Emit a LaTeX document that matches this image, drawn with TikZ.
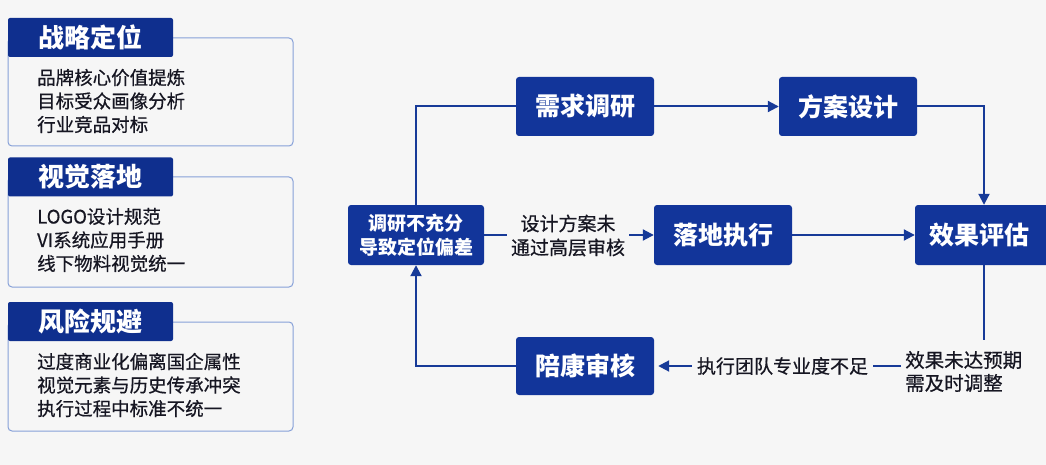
\documentclass[tikz,border=0pt]{standalone}
\usepackage{fontspec}
\setmainfont{Noto Sans CJK SC}
\newfontfamily\cjkmid[FakeBold=0.6]{Noto Sans CJK SC}
\usetikzlibrary{arrows.meta,calc}
\definecolor{navy}{HTML}{0F2F8E}
\definecolor{boxblue}{HTML}{12359A}
\definecolor{lineblue}{HTML}{173A98}
\definecolor{rimblue}{HTML}{86A0D8}
\definecolor{bg}{HTML}{F6F6F6}
\definecolor{ink}{HTML}{161622}
\tikzset{
  flowbox/.style={fill=boxblue, rounded corners=3pt, text=white, minimum width=138pt, minimum height=59pt, inner sep=0pt, font=\fontsize{25}{28}\selectfont\bfseries},
  smallbox/.style={fill=boxblue, rounded corners=3pt, text=white, minimum width=136pt, minimum height=60pt, inner sep=0pt, align=center, font=\fontsize{19}{24}\selectfont\bfseries},
  headbox/.style={fill=navy, rounded corners=2pt, text=white, minimum width=165pt, minimum height=39pt, inner sep=0pt, font=\fontsize{26}{28}\selectfont\bfseries},
  rim/.style={draw=rimblue, line width=1pt, rounded corners=4pt},
  listtext/.style={anchor=west, inner sep=0pt, align=left, text=ink, font=\cjkmid\fontsize{18.5}{23.5}\selectfont},
  lbl/.style={fill=bg, inner xsep=4pt, inner ysep=2pt, align=center, text=ink, font=\cjkmid\fontsize{19}{24}\selectfont},
  conn/.style={draw=lineblue, line width=2pt},
  arr/.style={conn, -{Triangle[length=11pt,width=11pt]}},
}
\begin{document}
\begin{tikzpicture}[x=1pt,y=-1pt]
\useasboundingbox (0,0) rectangle (1046,465);
\clip (0,0) rectangle (1046,465);
\fill[bg] (0,0) rectangle (1046,465);

% left panels
\draw[rim] (8,38) rectangle (293,146);
\node[headbox] (h1) at (90.5,37.5) {战略定位};
\node[listtext] (t1) at (37,101) {品牌核心价值提炼\\目标受众画像分析\\行业竞品对标};

\draw[rim] (8,177) rectangle (293,287);
\node[headbox] (h2) at (90.5,177) {视觉落地};
\node[listtext] (t2) at (37,240) {LOGO设计规范\\VI系统应用手册\\线下物料视觉统一};

\draw[rim] (8,322) rectangle (293,431);
\node[headbox] (h3) at (90.5,321.5) {风险规避};
\node[listtext] (t3) at (37,385) {过度商业化偏离国企属性\\视觉元素与历史传承冲突\\执行过程中标准不统一};

% flow boxes
\node[flowbox] (need) at (585,106.5) {需求调研};
\node[flowbox] (plan) at (848,106.5) {方案设计};
\node[flowbox, minimum height=60pt] (exec) at (723,235) {落地执行};
\node[flowbox, minimum height=60pt, minimum width=135pt] (eval) at (982.5,235) {\hspace*{-7pt}效果评估};
\node[smallbox] (probe) at (416,235) {调研不充分\\导致定位偏差};
\node[flowbox, minimum height=58pt] (audit) at (585,366) {陪康审核};

\coordinate (evx) at (984,0);
\coordinate (edown) at (984,340);

% connectors
\draw[conn] (probe.north) |- (need.west);
\draw[arr] (need.east) -- (plan.west);
\draw[arr] (plan.east) -| (evx |- eval.north);
\draw[arr] (probe.east) -- (exec.west);
\node[lbl] (l1) at (568,235.5) {设计方案未\\通过高层审核};
\draw[arr] (exec.east) -- (eval.west);
\draw[conn] (evx |- eval.south) -- (edown);
\node[anchor=west, inner sep=0pt, align=left, text=ink, font=\cjkmid\fontsize{19.5}{23}\selectfont] (lblE) at (905,371.5) {效果未达预期\\需及时调整};
\draw[arr, shorten >=4pt] ([xshift=-4pt]lblE.west |- audit.east) -- (audit.east);
\node[lbl, inner xsep=5pt] (lblT) at (782.5,366) {执行团队专业度不足};
\draw[arr] (audit.west) -| (probe.south);
\end{tikzpicture}
\end{document}
